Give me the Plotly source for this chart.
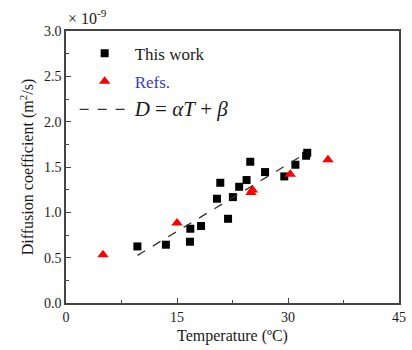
import plotly.graph_objects as go

# This work (temperature in °C, diffusion coefficient in 1e-9 m^2/s)
work_T = [9.65, 13.5, 16.75, 16.8, 18.25, 21.9, 20.4, 20.85, 22.55, 23.4, 24.4, 24.9, 26.9, 29.5, 31.0, 32.45, 32.6]
work_D = [0.624, 0.643, 0.676, 0.819, 0.849, 0.929, 1.15, 1.326, 1.168, 1.282, 1.356, 1.558, 1.444, 1.396, 1.525, 1.624, 1.657]

# Literature values
refs_T = [5.0, 15.0, 25.0, 25.2, 30.3, 35.4]
refs_D = [0.532, 0.882, 1.22, 1.245, 1.42, 1.58]

# Linear fit line D = aT + b (endpoints)
fit_T = [9.65, 32.6]
fit_D = [0.525, 1.66]

serif = "Liberation Serif"
axcol = "#444444"

fig = go.Figure()
fig.add_trace(go.Scatter(x=work_T, y=work_D, mode="markers", name="This work",
                         legendgroup="a",
                         marker=dict(symbol="square", size=8, color="black")))
fig.add_trace(go.Scatter(x=refs_T, y=refs_D, mode="markers",
                         name="<span style='color:#3b3bc4'>Refs.</span>",
                         legendgroup="b",
                         marker=dict(symbol="triangle-up", size=10, color="#ff0000")))
fig.add_trace(go.Scatter(x=fit_T, y=fit_D, mode="lines",
                         name="<span style='font-size:21px'><i>D</i> = <i>αT</i> + <i>β</i></span>",
                         legendgroup="c",
                         line=dict(color="#333333", width=1.3, dash="dash")))

fig.update_layout(
    width=412, height=350,
    margin=dict(l=66, r=6, t=31, b=47),
    paper_bgcolor="white", plot_bgcolor="white",
    font=dict(family=serif, size=14, color="#1a1a1a"),
    showlegend=True,
    legend=dict(x=0.026, y=0.983, xanchor="left", yanchor="top",
                bgcolor="rgba(0,0,0,0)", font=dict(size=17, family=serif),
                traceorder="grouped", tracegroupgap=3, itemwidth=50),
    xaxis=dict(range=[0, 45], tickvals=[0, 15, 30, 45], ticks="inside", ticklen=5,
               showline=True, linecolor=axcol, linewidth=1.5, mirror=True,
               showgrid=False, zeroline=False, tickcolor=axcol,
               minor=dict(ticks="inside", dtick=7.5, ticklen=3, tickcolor=axcol, showgrid=False),
               title=dict(text="Temperature (ºC)", font=dict(size=16), standoff=6),
               tickfont=dict(size=14)),
    yaxis=dict(range=[0, 3.0], dtick=0.5, tickformat=".1f", ticks="inside", ticklen=5,
               showline=True, linecolor=axcol, linewidth=1.5, mirror=True,
               showgrid=False, zeroline=False, tickcolor=axcol,
               minor=dict(ticks="inside", dtick=0.25, ticklen=3, tickcolor=axcol, showgrid=False),
               title=dict(text="Diffusion coefficient (m<sup>2</sup>/s)", font=dict(size=16), standoff=6),
               tickfont=dict(size=14)),
    annotations=[dict(text="× 10<sup>-9</sup>", xref="paper", yref="paper", x=0.0, y=1.0,
                      xanchor="left", yanchor="bottom", yshift=2, showarrow=False,
                      font=dict(size=16, family=serif, color="#1a1a1a"))],
)

fig.write_html("out.html")
